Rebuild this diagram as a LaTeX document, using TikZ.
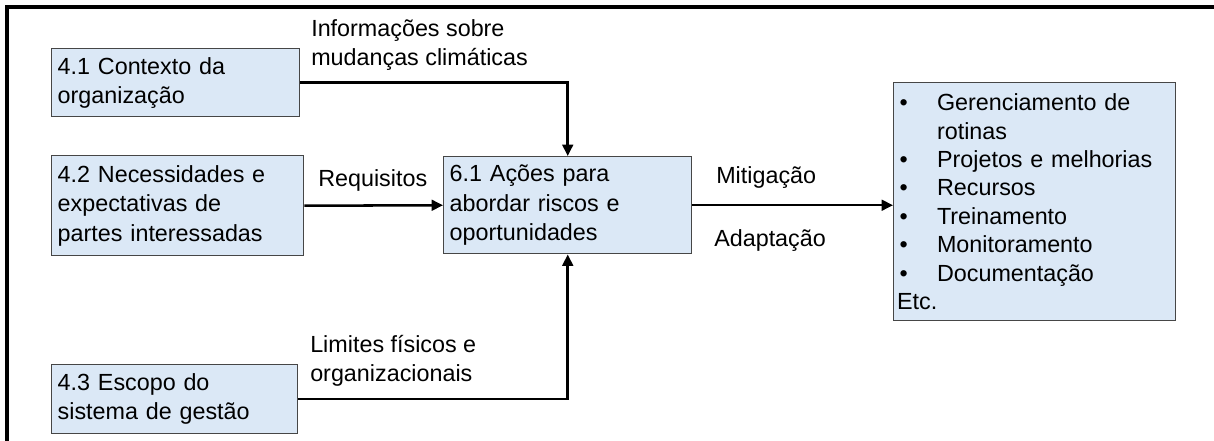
\documentclass[tikz,border=0pt]{standalone}
\usepackage{fontspec}
\setmainfont{Liberation Sans}
\usepackage{tikz}
\usetikzlibrary{arrows.meta}

\newcommand{\bitem}[1]{\makebox[30pt][l]{\hspace{2pt}\textbullet}#1}
\newcommand{\bcont}[1]{\makebox[30pt][l]{}#1}

\begin{document}
\begin{tikzpicture}[x=0.75pt,y=0.75pt,yscale=-1,xscale=1,
  font=\fontsize{17.5}{22}\selectfont,
  box/.style={draw={rgb,255:red,70;green,70;blue,70},line width=1.1pt,
    fill={rgb,255:red,219;green,232;blue,246},anchor=north west,
    inner xsep=4.5pt,inner ysep=0pt,align=left},
  lbl/.style={anchor=west,inner sep=0pt,align=left},
  flow/.style={line width=1.9pt,-{Triangle[length=8.5pt,width=8pt]}}]
\useasboundingbox (0,0) rectangle (1214,441);

%Straight Lines: frame
\draw [line width=2.3pt]  (1214,7) -- (7,7) -- (7,441) ;

% Text Node
\draw (51,48) node [box,text width=177pt,minimum height=51pt] (ctx) {4.1 Contexto da\\organização};
% Text Node
\draw (51,155) node [box,text width=180pt,minimum height=75pt] (partes) {4.2 Necessidades e\\expectativas de\\partes interessadas};
% Text Node
\draw (51,364) node [box,text width=175.5pt,minimum height=51.75pt] (escopo) {4.3 Escopo do\\sistema de gestão};
% Text Node
\draw (443,156) node [box,text width=177pt,minimum height=72.75pt] (acoes) {6.1 Ações para\\abordar riscos e\\oportunidades};
% Text Node
\draw (893,82) node [box,inner xsep=2.5pt,text width=206.5pt,minimum height=178.5pt,
  font=\fontsize{17.5}{21.3}\selectfont] (lista) {\bitem{Gerenciamento de}\\\bcont{rotinas}\\\bitem{Projetos e melhorias}\\\bitem{Recursos}\\\bitem{Treinamento}\\\bitem{Monitoramento}\\\bitem{Documentação}\\Etc.};

% Text Node
\draw (311,45) node [lbl] (info) {Informações sobre\\mudanças climáticas};
% Text Node
\draw (318,180) node [lbl] (requis) {Requisitos};
% Text Node
\draw (716,178) node [lbl] (mitig) {Mitigação};
% Text Node
\draw (714,241) node [lbl] (adapt) {Adaptação};
% Text Node
\draw (310,361) node [lbl] (limites) {Limites físicos e\\organizacionais};

%Arrows
\draw [flow] (ctx.east) -| (acoes.north) ;
\draw [flow] (partes.east) -- (acoes.west) ;
\draw [flow] (escopo.east) -| (acoes.south) ;
\draw [flow] (acoes.east) -- (acoes.east -| lista.west) ;
\end{tikzpicture}
\end{document}
